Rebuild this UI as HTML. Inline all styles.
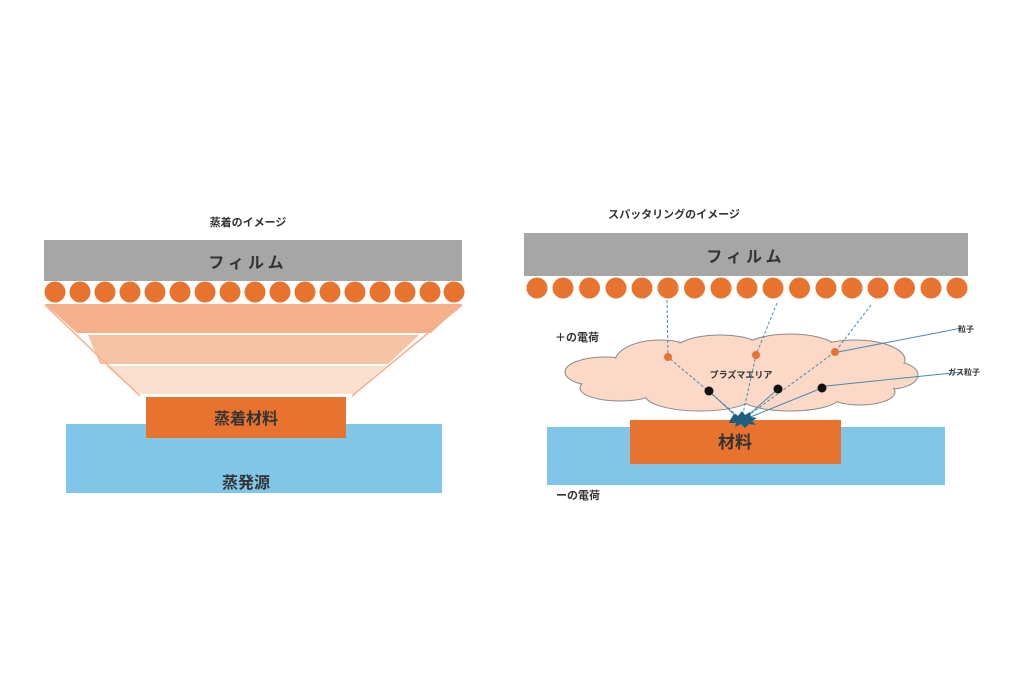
<!DOCTYPE html>
<html><head><meta charset="utf-8"><style>
html,body{margin:0;padding:0;background:#fff;}
svg{display:block;}
text{font-family:"Liberation Sans","Noto Sans CJK JP",sans-serif;font-weight:bold;fill:#333;}
</style></head><body>
<svg width="1024" height="683" viewBox="0 0 1024 683" xmlns="http://www.w3.org/2000/svg">
<!-- LEFT -->
<text x="248" y="226" font-size="11" text-anchor="middle">蒸着のイメージ</text>
<rect x="44" y="240" width="418" height="41" fill="#a6a6a6"/>
<text x="248" y="268" font-size="16" text-anchor="middle" letter-spacing="4">フィルム</text>
<g fill="#e8732f">
<circle cx="55" cy="292" r="10.5"/><circle cx="80" cy="292" r="10.5"/><circle cx="105" cy="292" r="10.5"/><circle cx="130" cy="292" r="10.5"/><circle cx="155" cy="292" r="10.5"/><circle cx="180" cy="292" r="10.5"/><circle cx="205" cy="292" r="10.5"/><circle cx="230" cy="292" r="10.5"/><circle cx="255" cy="292" r="10.5"/><circle cx="280" cy="292" r="10.5"/><circle cx="305" cy="292" r="10.5"/><circle cx="330" cy="292" r="10.5"/><circle cx="355" cy="292" r="10.5"/><circle cx="380" cy="292" r="10.5"/><circle cx="405" cy="292" r="10.5"/><circle cx="430" cy="292" r="10.5"/><circle cx="454" cy="292" r="10.5"/>
</g>
<polygon points="45,304 462,304 431,333 77,333" fill="#f3b08b"/>
<polygon points="88,335 419,335 388,364 100,364" fill="#f6c2a4"/>
<polygon points="105,366 386,366 354,394 139,394" fill="#fbe0d0"/>
<line x1="45" y1="305" x2="140" y2="396" stroke="#f3b08b" stroke-width="1.5"/>
<line x1="462" y1="305" x2="352" y2="396" stroke="#f3b08b" stroke-width="1.5"/>
<rect x="66" y="424" width="376" height="69" fill="#7fc6e8"/>
<rect x="146" y="397" width="200" height="41" fill="#e8732f"/>
<text x="246" y="424" font-size="16" text-anchor="middle">蒸着材料</text>
<text x="246" y="488" font-size="16" text-anchor="middle">蒸発源</text>

<!-- RIGHT -->
<text x="674" y="218" font-size="11" text-anchor="middle">スパッタリングのイメージ</text>
<rect x="524" y="233" width="444" height="43" fill="#a6a6a6"/>
<text x="746" y="262" font-size="16" text-anchor="middle" letter-spacing="4">フィルム</text>
<g fill="#e8732f">
<circle cx="537" cy="288" r="10.5"/><circle cx="563" cy="288" r="10.5"/><circle cx="589.5" cy="288" r="10.5"/><circle cx="616" cy="288" r="10.5"/><circle cx="642" cy="288" r="10.5"/><circle cx="668" cy="288" r="10.5"/><circle cx="694.5" cy="288" r="10.5"/><circle cx="721" cy="288" r="10.5"/><circle cx="747" cy="288" r="10.5"/><circle cx="773" cy="288" r="10.5"/><circle cx="799.5" cy="288" r="10.5"/><circle cx="826" cy="288" r="10.5"/><circle cx="852" cy="288" r="10.5"/><circle cx="878" cy="288" r="10.5"/><circle cx="904.5" cy="288" r="10.5"/><circle cx="931" cy="288" r="10.5"/><circle cx="957" cy="288" r="10.5"/>
</g>
<text x="555" y="341" font-size="11">＋の電荷</text>
<rect x="547" y="427" width="398" height="58" fill="#7fc6e8"/>
<rect x="630" y="420" width="211" height="44" fill="#e8732f"/>
<text x="735" y="448" font-size="17" text-anchor="middle">材料</text>
<text x="556" y="499" font-size="11">ーの電荷</text>

<!-- cloud -->
<g fill="#fbd9c6" stroke="#8a8a8a" stroke-width="1">
<ellipse cx="605" cy="372" rx="40" ry="15"/>
<ellipse cx="620" cy="388" rx="40" ry="13"/>
<ellipse cx="660" cy="362" rx="45" ry="22"/>
<ellipse cx="720" cy="355" rx="50" ry="20"/>
<ellipse cx="790" cy="352" rx="50" ry="18"/>
<ellipse cx="855" cy="360" rx="50" ry="20"/>
<ellipse cx="890" cy="375" rx="28" ry="14"/>
<ellipse cx="860" cy="392" rx="35" ry="13"/>
<ellipse cx="700" cy="395" rx="55" ry="16"/>
<ellipse cx="790" cy="397" rx="50" ry="14"/>
</g>
<g fill="#fbd9c6">
<ellipse cx="605" cy="372" rx="39" ry="14"/>
<ellipse cx="620" cy="388" rx="39" ry="12"/>
<ellipse cx="660" cy="362" rx="44" ry="21"/>
<ellipse cx="720" cy="355" rx="49" ry="19"/>
<ellipse cx="790" cy="352" rx="49" ry="17"/>
<ellipse cx="855" cy="360" rx="49" ry="19"/>
<ellipse cx="890" cy="375" rx="27" ry="13"/>
<ellipse cx="860" cy="392" rx="34" ry="12"/>
<ellipse cx="700" cy="395" rx="54" ry="15"/>
<ellipse cx="790" cy="397" rx="49" ry="13"/>
<rect x="630" y="360" width="250" height="35"/>
</g>
<text x="741" y="378" font-size="9" text-anchor="middle">プラズマエリア</text>

<!-- dashed paths -->
<g stroke="#4a8ab0" stroke-width="1" stroke-dasharray="3,2" fill="none">
<polyline points="667,300 668,357 740,418"/>
<polyline points="777,303 756,355 742,418"/>
<polyline points="871,305 835,352 745,418"/>
</g>
<g stroke="#4a8ab0" stroke-width="1" fill="none">
<line x1="709" y1="391" x2="738" y2="418"/>
<line x1="778" y1="389" x2="745" y2="418"/>
<line x1="822" y1="388" x2="748" y2="418"/>
<line x1="962" y1="328" x2="838" y2="352"/>
<line x1="962" y1="372" x2="826" y2="386"/>
</g>
<g fill="#e8732f"><circle cx="668" cy="357" r="4"/><circle cx="756" cy="355" r="4"/><circle cx="835" cy="352" r="4"/></g>
<g fill="#111"><circle cx="709" cy="391" r="4.5"/><circle cx="778" cy="389" r="4.5"/><circle cx="822" cy="388" r="4.5"/></g>
<polygon fill="#1d5f80" points="730,420 734,414 738,416 742,411 745,415 750,412 751,417 757,418 752,421 756,425 749,424 745,428 741,424 735,427 736,423 729,423"/>
<text x="958" y="332" font-size="8">粒子</text>
<text x="948" y="375" font-size="8">ガス粒子</text>
</svg>
</body></html>
